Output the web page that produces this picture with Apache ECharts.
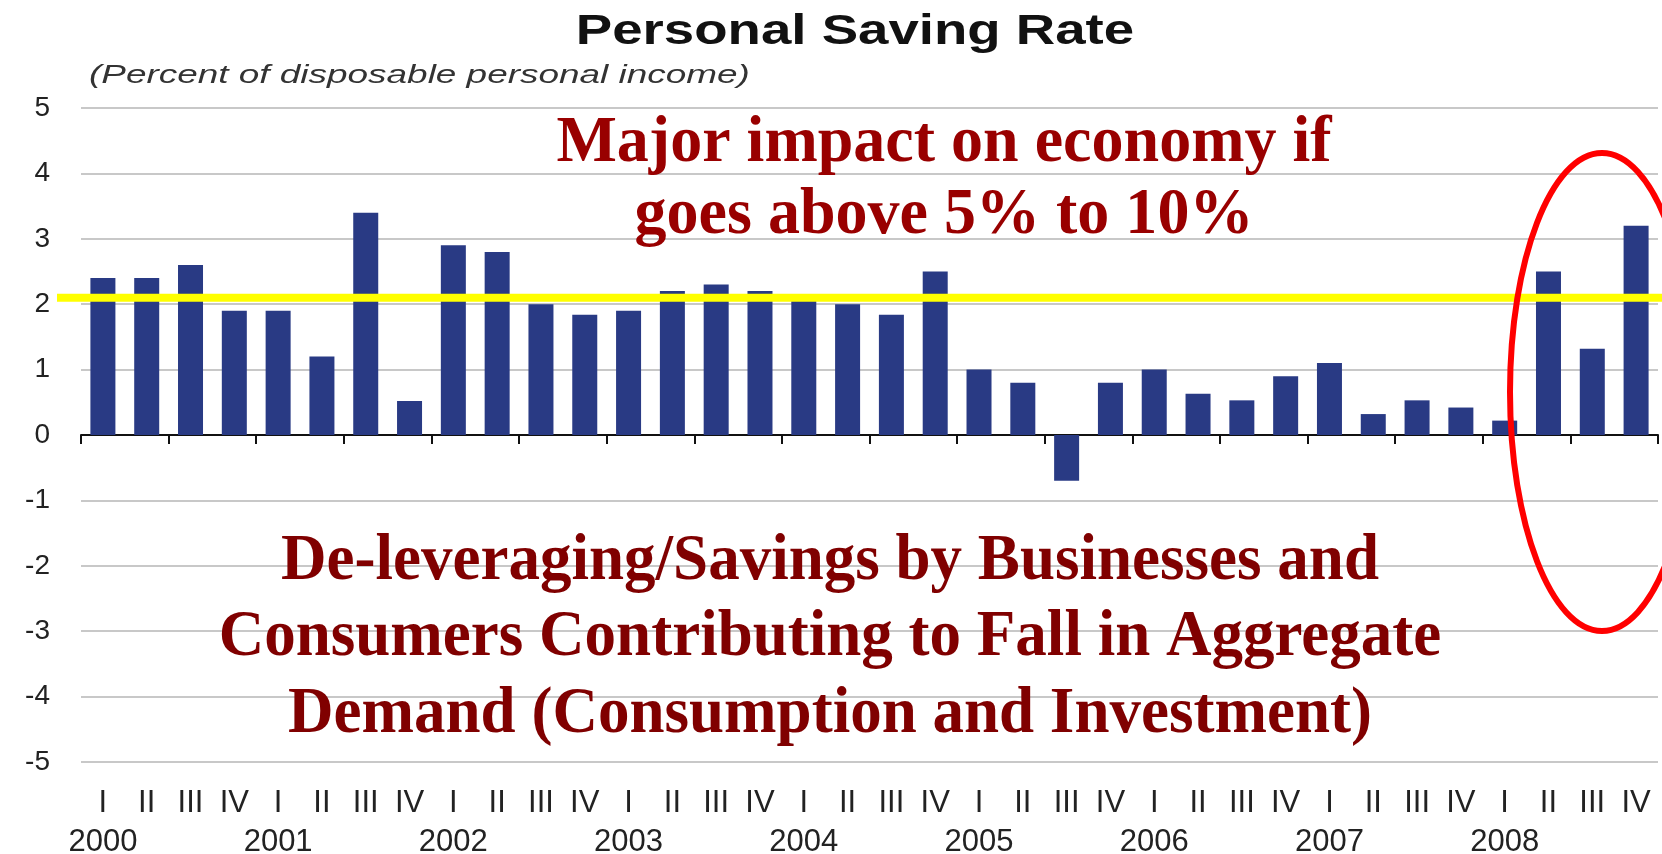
<!DOCTYPE html>
<html>
<head>
<meta charset="utf-8">
<title>Personal Saving Rate</title>
<script src="https://cdn.jsdelivr.net/npm/echarts@6.0.0/dist/echarts.min.js"></script>
<style>
	html, body { margin: 0; padding: 0; background: #fff; }
	#saving { width: 1662px; height: 854px; }
</style>
</head>
<body>
<div id="saving"></div>
<script>
	// quarterly personal saving rate, 2000 I .. 2008 IV
	let years = ['2000', '2001', '2002', '2003', '2004', '2005', '2006', '2007', '2008']
	let quarters = ['I', 'II', 'III', 'IV']
	let savingRate = [
		2.4, 2.4, 2.6, 1.9,
		1.9, 1.2, 3.4, 0.52,
		2.9, 2.8, 2.0, 1.84,
		1.9, 2.2, 2.3, 2.2,
		2.05, 2.0, 1.84, 2.5,
		1.0, 0.8, -0.7, 0.8,
		1.0, 0.63, 0.53, 0.9,
		1.1, 0.32, 0.53, 0.42,
		0.22, 2.5, 1.32, 3.2
	]
	let yMin = -5
	let yMax = 5
	let yStep = 1
	let trendLevel = 2.1

	let categories = []
	for (let i = 0; i < years.length; i++) {
		for (let j = 0; j < quarters.length; j++) {
			categories.push(years[i] + ' ' + quarters[j])
		}
	}

	let myChart = echarts.init(document.getElementById('saving'))
	myChart.setOption({
		animation: false,
		backgroundColor: '#fff',
		grid: {
			left: 81,
			right: 4,
			top: 108,
			bottom: 92,
			outerBoundsMode: 'none'
		},
		xAxis: [{
			type: 'category',
			data: categories,
			position: 'bottom',
			axisLine: {
				onZero: true,
				lineStyle: { color: '#111', width: 2 }
			},
			axisTick: {
				show: true,
				length: 9,
				lineStyle: { color: '#111', width: 2 }
			},
			axisLabel: { show: false }
		}, {
			type: 'category',
			data: categories,
			position: 'bottom',
			axisLine: { show: false },
			axisTick: { show: false },
			axisLabel: {
				margin: 22,
				interval: 0,
				fontFamily: 'Liberation Sans',
				fontSize: 31,
				lineHeight: 39,
				color: '#222',
				formatter: function (value, index) {
					let parts = value.split(' ')
					return index % 4 === 0 ? parts[1] + '\n' + parts[0] : parts[1]
				}
			}
		}],
		yAxis: {
			type: 'value',
			min: yMin,
			max: yMax,
			interval: yStep,
			axisLine: { show: false },
			axisTick: { show: false },
			splitLine: {
				lineStyle: { color: '#c8c8c8', width: 2 }
			},
			axisLabel: {
				margin: 31,
				fontFamily: 'Liberation Sans',
				fontSize: 28,
				color: '#222'
			}
		},
		series: [{
			name: 'Personal Saving Rate',
			type: 'bar',
			xAxisIndex: 0,
			data: savingRate,
			barWidth: 25,
			itemStyle: {
				color: '#293a84'
			}
		}]
	})

	// overlays: titles, yellow reference line, red ring, commentary
	let trendY = myChart.convertToPixel({ yAxisIndex: 0 }, trendLevel)
	let note = function (text, x, y, size, sx, color) {
		return {
			type: 'text',
			z: 120,
			x: x,
			y: y,
			scaleX: sx,
			style: {
				text: text,
				font: 'bold ' + size + 'px "Liberation Serif"',
				fill: color,
				textAlign: 'center',
				textVerticalAlign: 'middle'
			}
		}
	}
	myChart.setOption({
		graphic: [{
			type: 'text',
			z: 120,
			x: 855,
			y: 32,
			scaleX: 1.3,
			style: {
				text: 'Personal Saving Rate',
				font: 'bold 42px "Liberation Sans"',
				fill: '#111',
				textAlign: 'center',
				textVerticalAlign: 'middle'
			}
		}, {
			type: 'text',
			z: 120,
			x: 89,
			y: 76,
			scaleX: 1.42,
			style: {
				text: '(Percent of disposable personal income)',
				font: 'italic 26px "Liberation Sans"',
				fill: '#333',
				textAlign: 'left',
				textVerticalAlign: 'middle'
			}
		}, {
			type: 'line',
			z: 100,
			shape: { x1: 57, y1: trendY, x2: 1662, y2: trendY },
			style: { stroke: '#ffff00', lineWidth: 8 }
		}, {
			type: 'ellipse',
			z: 110,
			shape: { cx: 1602, cy: 392, rx: 92, ry: 239 },
			style: { stroke: '#ff0000', fill: null, lineWidth: 6 }
		},
		note('Major impact on economy if', 944, 144, 66, 0.97, '#990000'),
		note('goes above 5% to 10%', 944, 216, 66, 0.97, '#990000'),
		note('De-leveraging/Savings by Businesses and', 830, 562, 66, 0.955, '#800000'),
		note('Consumers Contributing to Fall in Aggregate', 830, 638, 66, 0.955, '#800000'),
		note('Demand (Consumption and Investment)', 830, 715, 66, 0.955, '#800000')
		]
	})
</script>
</body>
</html>
